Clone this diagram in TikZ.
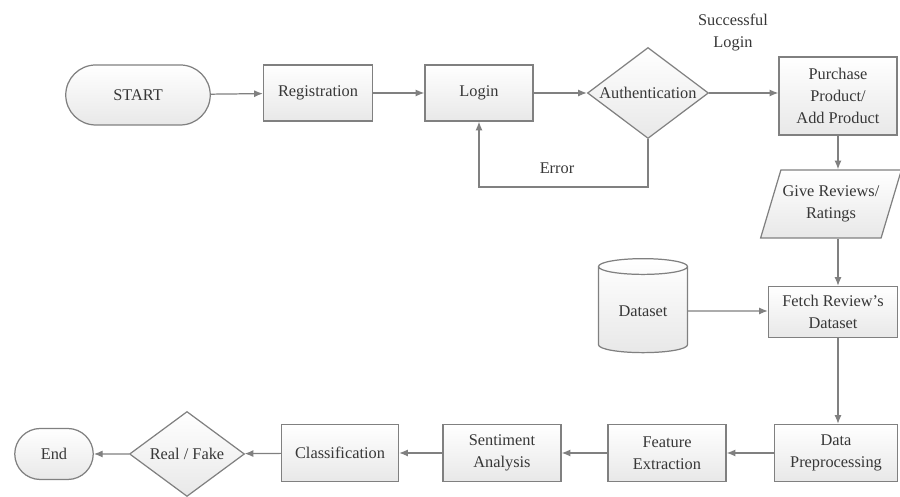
\documentclass[tikz,border=0pt]{standalone}
\usepackage{fontspec}
\setmainfont{Liberation Serif}
\usetikzlibrary{shapes.geometric,shapes.misc,arrows.meta}
\definecolor{flowline}{RGB}{128,128,128}
\definecolor{flowtext}{RGB}{55,55,55}
\definecolor{flowfill}{RGB}{232,232,232}

\begin{document}
\begin{tikzpicture}[
    font=\fontsize{9.3}{12.5}\selectfont,
    base/.style={draw=flowline,line width=0.7pt,text=flowtext,align=center,top color=white,bottom color=flowfill,inner sep=1pt},
    process/.style={base,rectangle},
    terminal/.style={base,rounded rectangle},
    decision/.style={base,diamond,aspect=1.33,inner sep=0pt},
    inout/.style={base,trapezium,trapezium left angle=63,trapezium right angle=117,trapezium stretches=true},
    store/.style={base,cylinder,shape border rotate=90,aspect=0.3},
    flow/.style={draw=flowline,line width=0.7pt,-{Latex[length=5pt,width=4pt]}}
]
\useasboundingbox (0,0) rectangle (18,9.94);

% top row
\node[terminal,minimum width=2.96cm,minimum height=1.2cm] (start) at (2.76,8.04) {START};
\node[process,minimum width=2.18cm,minimum height=1.12cm] (reg) at (6.36,8.08) {Registration};
\node[process,minimum width=2.16cm,minimum height=1.12cm] (login) at (9.58,8.08) {Login};
\node[decision,minimum width=2.42cm,minimum height=1.82cm] (auth) at (12.96,8.08) {Authentication};
\node[process,minimum width=2.36cm,minimum height=1.56cm] (purchase) at (16.76,8.02) {Purchase\\Product/\\Add Product};
\node[text=flowtext,align=center] (succ) at (14.66,9.28) {Successful\\Login};
\node[text=flowtext] (err) at (11.14,6.58) {Error};

% right column
\node[inout,minimum width=2.64cm,minimum height=1.36cm] (give) at (16.62,5.86) {Give Reviews/\\Ratings};
\node[process,minimum width=2.58cm,minimum height=1.02cm] (fetch) at (16.66,3.7) {Fetch Review's\\Dataset};
\node[store,minimum width=1.78cm,minimum height=1.88cm] (data) at (12.86,3.72) {Dataset};

% bottom row
\node[process,minimum width=2.46cm,minimum height=1.14cm] (prep) at (16.72,0.88) {Data\\Preprocessing};
\node[process,minimum width=2.36cm,minimum height=1.14cm] (feat) at (13.34,0.88) {Feature\\Extraction};
\node[process,minimum width=2.36cm,minimum height=1.14cm] (senti) at (10.04,0.88) {Sentiment\\Analysis};
\node[process,minimum width=2.34cm,minimum height=1.14cm] (classif) at (6.8,0.88) {Classification};
\node[decision,minimum width=2.3cm,minimum height=1.7cm] (real) at (3.74,0.86) {Real / Fake};
\node[terminal,minimum width=1.64cm,minimum height=1.02cm] (end) at (1.08,0.86) {End};

\coordinate (errturn) at (12.96,6.2);

\draw[flow] (start) -- (reg);
\draw[flow] (reg) -- (login);
\draw[flow] (login) -- (auth);
\draw[flow] (auth) -- (auth -| purchase.west);
\draw[flow] (auth.south) -- (errturn) -| (login.south);
\draw[flow] (purchase.south) -- (purchase.south |- give.north);
\draw[flow] (purchase.south |- give.south) -- (purchase.south |- fetch.north);
\draw[flow] (data) -- (data -| fetch.west);
\draw[flow] (purchase.south |- fetch.south) -- (purchase.south |- prep.north);
\draw[flow] (prep) -- (feat);
\draw[flow] (feat) -- (senti);
\draw[flow] (senti) -- (classif);
\draw[flow] (classif) -- (real);
\draw[flow] (real) -- (end);
\end{tikzpicture}
\end{document}
